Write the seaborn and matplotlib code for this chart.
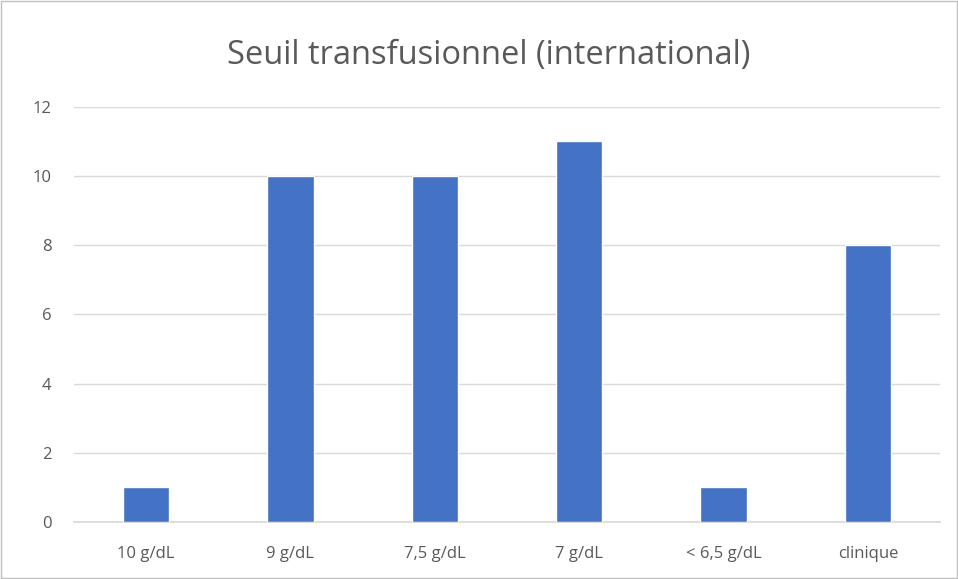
import matplotlib
matplotlib.use("Agg")
import matplotlib.pyplot as plt
import seaborn as sns
import pandas as pd
from matplotlib.patches import Rectangle

# Data
categories = ["10 g/dL", "9 g/dL", "7,5 g/dL", "7 g/dL", "< 6,5 g/dL", "clinique"]
counts = [1, 10, 10, 11, 1, 8]

df = pd.DataFrame({"seuil": categories, "n": counts})

sns.set_theme(style="white")
plt.rcParams["font.family"] = ["Open Sans", "DejaVu Sans"]

fig = plt.figure(figsize=(9.58, 5.79), dpi=100)
ax = fig.add_axes([0.0772, 0.0984, 0.904, 0.717])

sns.barplot(data=df, x="seuil", y="n", color="#4472C4", width=0.32,
            saturation=1, ax=ax, zorder=3)

ax.set_ylim(0, 12)
ax.set_yticks(range(0, 13, 2))
ax.yaxis.grid(True, color="#D9D9D9", linewidth=1, zorder=0)
ax.set_xlabel("")
ax.set_ylabel("")
for side in ["top", "right", "left"]:
    ax.spines[side].set_visible(False)
ax.spines["bottom"].set_color("#D9D9D9")
ax.tick_params(axis="both", length=0, labelsize=12, colors="#595959")
ax.tick_params(axis="x", pad=17)
ax.tick_params(axis="y", pad=16)

fig.text(0.51, 0.905, "Seuil transfusionnel (international)", ha="center",
         va="center", fontsize=23.5, color="#595959")

# chart border
fig.patches.append(Rectangle((0.001, 0.001), 0.998, 0.998, transform=fig.transFigure,
                             fill=False, edgecolor="#BFBFBF", linewidth=1))

fig.savefig("out.png", dpi=100)
